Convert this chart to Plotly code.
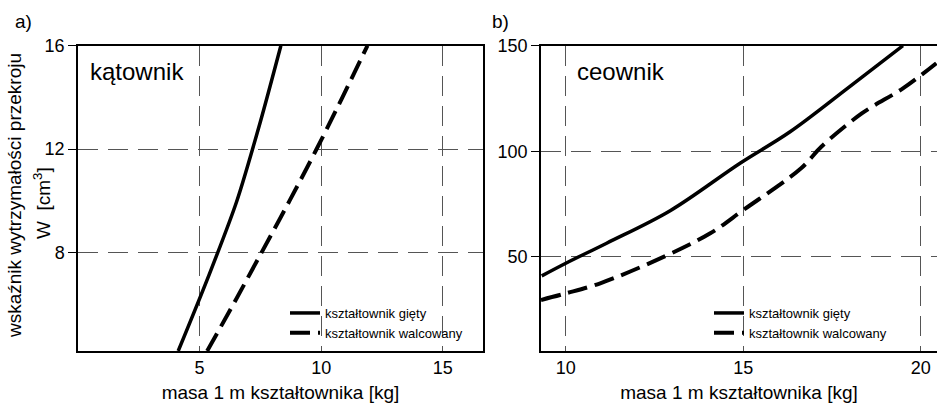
import plotly.graph_objects as go

# ---- data: panel a) kątownik ----
a_giety_x = [4.12, 5.36, 6.52, 7.48, 8.34]
a_giety_y = [4.18, 7.06, 9.96, 13.0, 16.0]
a_walc_x = [5.31, 6.45, 7.55, 8.70, 9.81, 10.87, 11.9]
a_walc_y = [4.18, 6.1, 8.0, 10.0, 12.0, 14.0, 16.0]

# ---- data: panel b) ceownik ----
b_giety_x = [9.32, 10.0, 11.15, 12.94, 14.91, 16.32, 18.0, 19.5]
b_giety_y = [40.9, 46.9, 56.4, 71.8, 94.3, 109.2, 130.6, 150.0]
b_walc_x = [9.3, 10.0, 10.97, 12.66, 14.07, 15.0, 16.63, 17.2, 18.35, 19.5, 20.44]
b_walc_y = [29.5, 32.6, 37.4, 49.2, 61.1, 72.1, 91.9, 102.1, 118.0, 129.8, 141.7]

a_xticks = [5, 10, 15]
a_yticks = [8, 12, 16]
b_xticks = [10, 15, 20]
b_yticks = [50, 100, 150]

names = ["kształtownik gięty", "kształtownik walcowany"]
xtitle = "masa 1 m kształtownika [kg]"

FONT = "Liberation Sans, Arial, sans-serif"

fig = go.Figure()
solid = dict(color="black", width=3.5)
dashed = dict(color="black", width=4, dash="20px,8px")

fig.add_trace(go.Scatter(x=a_giety_x, y=a_giety_y, mode="lines", name=names[0],
                         line=dict(**solid, shape="spline", smoothing=0.8), xaxis="x", yaxis="y", legend="legend"))
fig.add_trace(go.Scatter(x=a_walc_x, y=a_walc_y, mode="lines", name=names[1],
                         line=dict(**dashed, shape="spline"), xaxis="x", yaxis="y", legend="legend"))
fig.add_trace(go.Scatter(x=b_giety_x, y=b_giety_y, mode="lines", name=names[0],
                         line=dict(**solid, shape="spline"), xaxis="x2", yaxis="y2", legend="legend2"))
fig.add_trace(go.Scatter(x=b_walc_x, y=b_walc_y, mode="lines", name=names[1],
                         line=dict(**dashed, shape="spline"), xaxis="x2", yaxis="y2", legend="legend2"))

W, H = 937, 403
ydom = [1 - 351 / H, 1 - 45.7 / H]

grid = dict(showgrid=True, gridcolor="#555555", gridwidth=1, griddash="20px,10px",
            zeroline=False, showline=True, linecolor="black", linewidth=1.5, automargin=False,
            tickfont=dict(size=18, color="black", family=FONT))

fig.update_layout(
    template="none",
    width=W, height=H,
    margin=dict(l=0, r=0, t=0, b=0, autoexpand=False),
    paper_bgcolor="white", plot_bgcolor="white",
    font=dict(family=FONT, color="black"),
    showlegend=True,
    xaxis=dict(domain=[78 / W, 483 / W], range=[0, 16.65], tickvals=a_xticks, ticks="",
               mirror=True, anchor="y",
               title=dict(text=xtitle, font=dict(size=19), standoff=9), **grid),
    yaxis=dict(domain=ydom, range=[4.18, 16], tickvals=a_yticks, ticks="outside", ticklen=8,
               tickcolor="black", mirror=True, anchor="x", **grid),
    xaxis2=dict(domain=[541 / W, 1.0], range=[9.3, 20.46], tickvals=b_xticks, ticks="",
                mirror=True, anchor="y2",
                title=dict(text=xtitle, font=dict(size=19), standoff=9), **grid),
    yaxis2=dict(domain=ydom, range=[5.3, 150], tickvals=b_yticks, ticks="outside", ticklen=8,
                tickcolor="black", mirror=False, anchor="x2", **grid),
    legend=dict(x=285 / W, y=1 - 298 / H, xanchor="left", yanchor="top",
                bgcolor="rgba(0,0,0,0)", font=dict(size=13), tracegroupgap=0),
    legend2=dict(x=709 / W, y=1 - 298 / H, xanchor="left", yanchor="top",
                 bgcolor="rgba(0,0,0,0)", font=dict(size=13), tracegroupgap=0),
)

ann = [
    dict(text="a)", x=13 / W, y=1 - 22 / H, xanchor="left", yanchor="middle", font=dict(size=19)),
    dict(text="b)", x=490 / W, y=1 - 22 / H, xanchor="left", yanchor="middle", font=dict(size=19)),
    dict(text="kątownik", x=88 / W, y=1 - 71 / H, xanchor="left", yanchor="middle", font=dict(size=24)),
    dict(text="ceownik", x=575 / W, y=1 - 71 / H, xanchor="left", yanchor="middle", font=dict(size=24)),
    dict(text="wskaźnik wytrzymałości przekroju", x=15 / W, y=1 - 196 / H, textangle=-90,
         xanchor="center", yanchor="middle", font=dict(size=19)),
    dict(text="W  [cm<sup>3</sup>]", x=42 / W, y=1 - 203 / H, textangle=-90,
         xanchor="center", yanchor="middle", font=dict(size=19)),
]
for a in ann:
    fig.add_annotation(xref="paper", yref="paper", showarrow=False, **a)

fig.write_html("out.html")
